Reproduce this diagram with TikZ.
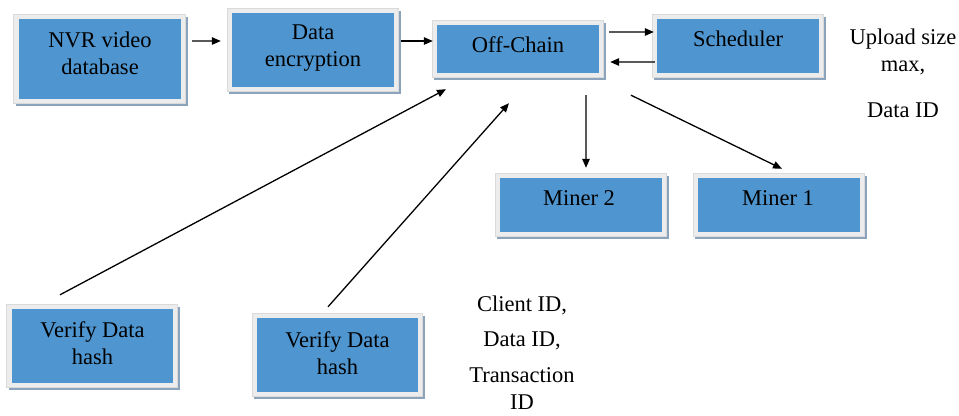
\documentclass[tikz,border=0pt]{standalone}
\usepackage{fontspec}
\setmainfont{Liberation Serif}
\usetikzlibrary{arrows.meta,backgrounds}

\definecolor{boxblue}{RGB}{79,149,207}
\definecolor{framegray}{RGB}{236,236,236}
\definecolor{frameedge}{RGB}{218,218,218}
\definecolor{shadowblue}{RGB}{139,164,188}

\tikzset{
  blk/.style={rectangle, fill=boxblue, draw=none, inner sep=0pt,
              minimum width=162bp},
  txt/.style={align=center, inner sep=0pt, font=\fontsize{22.5bp}{27bp}\selectfont},
  arr/.style={-{Triangle[length=9bp,width=7.5bp]}, line width=1.3bp, black},
}

\begin{document}
\begin{tikzpicture}[x=1bp, y=-1bp]
\useasboundingbox (0,0) rectangle (959,415);

% blue blocks
\node[blk, minimum height=80bp] (nvr) at (100,59) {};
\node[blk, minimum height=74bp] (enc) at (313,50) {};
\node[blk, minimum height=48bp] (off) at (518,49) {};
\node[blk, minimum height=54bp] (sch) at (738,46) {};
\node[blk, minimum height=54bp] (mtwo) at (581,205) {};
\node[blk, minimum height=54bp] (mone) at (779,205) {};
\node[blk, minimum width=161bp, minimum height=74bp] (vone) at (92.5,346) {};
\node[blk, minimum width=161bp, minimum height=74bp] (vtwo) at (337.5,355) {};

% light frame with a shadow under every block
\begin{scope}[on background layer]
\foreach \n in {nvr,enc,off,sch,mtwo,mone,vone,vtwo} {
  \fill[shadowblue] ([xshift=-3bp,yshift=2bp]\n.north west)
                    rectangle ([xshift=7bp,yshift=-7bp]\n.south east);
  \filldraw[fill=framegray, draw=frameedge, line width=0.6bp]
            ([xshift=-5bp,yshift=5bp]\n.north west)
            rectangle ([xshift=4bp,yshift=-4bp]\n.south east);
}
\end{scope}

% block captions
\node[txt] (nvrT)  at ([yshift=5.5bp]nvr.center) {NVR video\\database};
\node[txt] (encT)  at ([yshift=1.5bp]enc.center) {Data\\encryption};
\node[txt] (offT)  at ([yshift=4bp]off.center) {Off-Chain};
\node[txt] (schT)  at ([yshift=7bp]sch.center) {Scheduler};
\node[txt] (mtwoT) at ([xshift=-2bp,yshift=7bp]mtwo.center) {Miner 2};
\node[txt] (moneT) at ([xshift=-1bp,yshift=7bp]mone.center) {Miner 1};
\node[txt] (voneT) at ([yshift=2.5bp]vone.center) {Verify Data\\hash};
\node[txt] (vtwoT) at ([yshift=2bp]vtwo.center) {Verify Data\\hash};

% free notes
\node[txt] (upl)  at (903,51.5) {Upload size\\max,};
\node[txt] (did)  at (903,110) {Data ID};
\node[txt] (cli)  at (522,322.5) {Client ID,\\[8bp]Data ID,};
\node[txt] (trn)  at (522,389) {Transaction\\ID};

% connectors
\draw[arr] ([xshift=11bp,yshift=18bp]nvr.east) -- ([xshift=-11bp,yshift=9bp]enc.west);
\draw[arr] ([xshift=7bp,yshift=9bp]enc.east) -- ([xshift=-4bp,yshift=8bp]off.west);
\draw[arr] ([xshift=10bp,yshift=17bp]off.east) -- ([xshift=-3bp,yshift=14bp]sch.west);
\draw[arr] ([xshift=-2bp,yshift=-16bp]sch.west) -- ([xshift=11bp,yshift=-13bp]off.east);
\draw[arr] ([xshift=68bp,yshift=-22bp]off.south) -- ([xshift=5bp,yshift=10bp]mtwo.north);
\draw[arr] ([xshift=113bp,yshift=-22bp]off.south) -- ([xshift=3bp,yshift=9bp]mone.north);
\draw[arr] ([xshift=-32.5bp,yshift=14bp]vone.north) -- ([xshift=-72bp,yshift=-16bp]off.south);
\draw[arr] ([xshift=-9.5bp,yshift=11bp]vtwo.north) -- ([xshift=-9bp,yshift=-30bp]off.south);
\end{tikzpicture}
\end{document}
